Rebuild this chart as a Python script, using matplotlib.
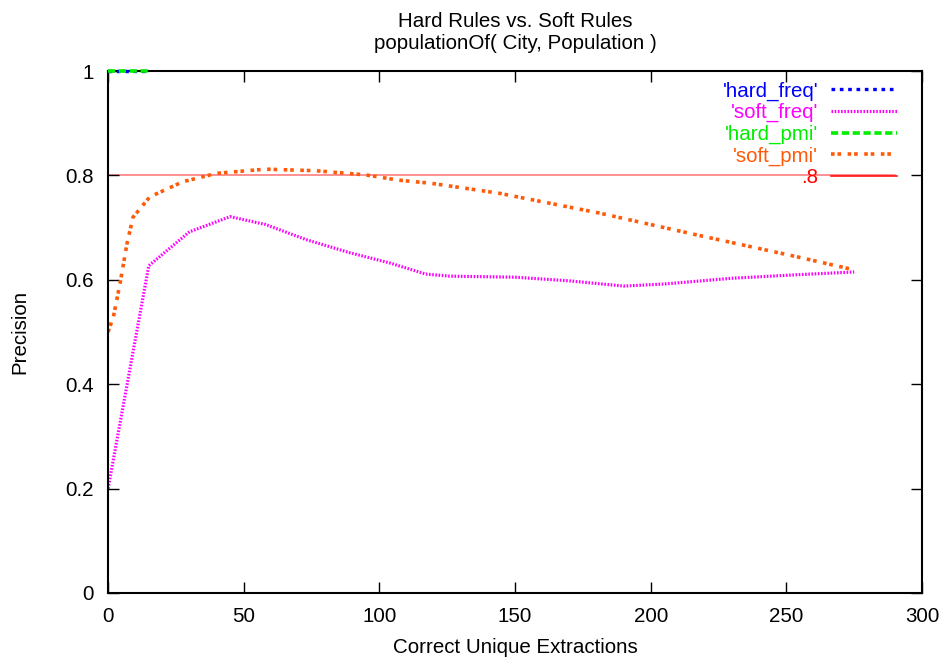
import matplotlib
matplotlib.use("Agg")
import matplotlib.pyplot as plt
from matplotlib.ticker import FuncFormatter

# values
hard_x = [0, 5, 10, 15]
hard_freq = [1.0, 1.0, 1.0, 1.0]
hard_pmi = [1.0, 1.0, 1.0, 1.0]

soft_freq_x = [0, 15, 30, 45, 58, 73, 89, 104, 117, 126, 150, 170, 190, 205, 230, 255, 275]
soft_freq = [0.2, 0.627, 0.692, 0.721, 0.706, 0.677, 0.652, 0.632, 0.611, 0.607,
             0.605, 0.598, 0.588, 0.592, 0.603, 0.610, 0.615]

soft_pmi_x = [0, 2, 4.4, 7, 9.2, 15.4, 27.6, 40, 58, 76.6, 95, 107, 119, 144, 181, 217, 254, 275]
soft_pmi = [0.5, 0.53, 0.593, 0.67, 0.72, 0.759, 0.788, 0.804, 0.812, 0.809,
            0.801, 0.791, 0.785, 0.766, 0.728, 0.686, 0.644, 0.619]

ref_x = [0, 290]
ref_y = [0.8, 0.8]

plt.rcParams['font.family'] = ['Liberation Sans', 'DejaVu Sans']
plt.rcParams['font.size'] = 14.8

fig = plt.figure(figsize=(9.48, 6.64), dpi=100)
ax = fig.add_axes([0.114, 0.107, 0.8586, 0.786])

ax.plot(ref_x, ref_y, color='red', alpha=0.55, lw=1.1, label='.8', zorder=1)
ax.plot(hard_x, hard_freq, color='#0000ff', lw=2.4, dashes=(1.1, 1.4),
        label="'hard_freq'", clip_on=False, zorder=3)
ax.plot(soft_freq_x, soft_freq, color='#ff00ff', lw=2.3, dashes=(0.5, 0.5),
        label="'soft_freq'", zorder=2)
ax.plot(hard_x, hard_pmi, color='#00ee00', lw=2.6, dashes=(2.0, 1.0),
        label="'hard_pmi'", clip_on=False, zorder=4)
ax.plot(soft_pmi_x, soft_pmi, color='#ff5a0a', lw=2.6, dashes=(1.0, 0.8, 1.0, 1.8),
        label="'soft_pmi'", zorder=2)

ax.set_xlim(0, 300)
ax.set_ylim(0, 1)
ax.set_xticks([0, 50, 100, 150, 200, 250, 300])
ax.set_yticks([0, 0.2, 0.4, 0.6, 0.8, 1.0])
ax.yaxis.set_major_formatter(FuncFormatter(lambda v, p: '%g' % v))
ax.tick_params(direction='in', length=8, width=1, top=True, right=True, pad=10)
for s in ax.spines.values():
    s.set_linewidth(1.5)

ax.set_xlabel('Correct Unique Extractions', labelpad=9)
ax.set_ylabel('Precision', labelpad=26)
ax.set_title('Hard Rules vs. Soft Rules\npopulationOf( City, Population )',
             fontsize=14.8, pad=16, linespacing=1.18)

# legend in gnuplot key order, right-aligned text, samples on the right
handles, labels = ax.get_legend_handles_labels()
order = [1, 2, 3, 4, 0]
leg = ax.legend([handles[i] for i in order], [labels[i] for i in order],
                loc='upper right', bbox_to_anchor=(0.969, 0.980), frameon=False,
                markerfirst=False, labelcolor='linecolor', handlelength=3.2,
                handletextpad=0.62, labelspacing=0.12, borderpad=0, borderaxespad=0)
for col in leg._legend_handle_box.get_children():
    col.align = 'right'
leg.legend_handles[4].set_alpha(1)
leg.get_texts()[4].set_color('red')

fig.savefig('out.png', dpi=100)
